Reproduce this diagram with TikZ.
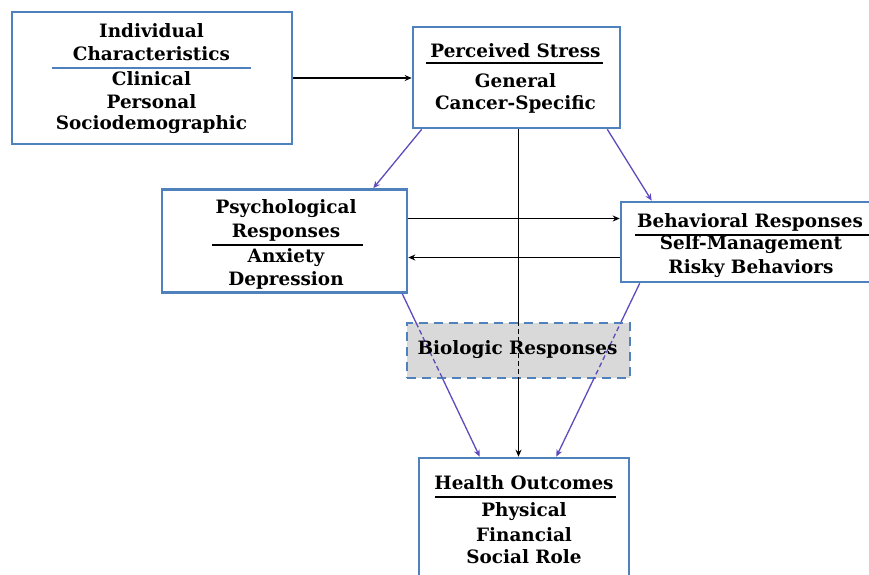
\documentclass[tikz,border=0pt]{standalone}
\usepackage{fontspec}
\setmainfont{DejaVu Serif}
\usetikzlibrary{arrows.meta}
\definecolor{frameblue}{RGB}{79,129,189}
\definecolor{linkviolet}{RGB}{96,74,190}
\definecolor{biogray}{RGB}{217,217,217}
\tikzset{
  box/.style={draw=frameblue, line width=2.6pt, fill=white, inner sep=0pt},
  biobox/.style={draw=frameblue, line width=2.6pt, fill=biogray, inner sep=0pt,
    dash pattern=on 9pt off 6pt},
  lbl/.style={font=\fontsize{18.4}{21}\selectfont\bfseries, inner sep=0pt, anchor=center},
  sepline/.style={line width=1.4pt},
  plain/.style={line width=1.3pt, -{Stealth[length=7pt,width=6pt]}},
  violet/.style={line width=1.3pt, draw=linkviolet, -{Stealth[length=7pt,width=6pt,fill=linkviolet]}},
  inside/.style={line width=1.3pt, dash pattern=on 5pt off 3pt},
}
\begin{document}
\begin{tikzpicture}[x=1pt,y=-1pt]
\useasboundingbox (0,0) rectangle (869,574);
\clip (0,0) rectangle (869,574);
\fill[white] (0,0) rectangle (869,574);

% frames
\node[box, minimum width=280pt, minimum height=132pt] (ind) at (152,78) {};
\node[box, minimum width=207pt, minimum height=101pt] (ps) at (516.5,77.5) {};
\node[box, minimum width=245pt, minimum height=103pt] (psy) at (284.5,241) {};
\node[box, minimum width=258pt, minimum height=80pt] (beh) at (750,242) {};
\node[box, minimum width=210pt, minimum height=140pt] (ho) at (524,528) {};

% Individual Characteristics
\node[lbl] (ind1) at (151.5,31) {Individual};
\node[lbl] (ind2) at (151.5,54) {Characteristics};
\draw[sepline, draw=frameblue] (52,68) -- (251,68);
\node[lbl] (ind3) at (151.5,79) {Clinical};
\node[lbl] (ind4) at (151.5,102) {Personal};
\node[lbl] (ind5) at (151.5,125) {Sociodemographic};

% Perceived Stress
\node[lbl] (ps1) at (515.5,51) {Perceived Stress};
\draw[sepline] (426,63) -- (603,63);
\node[lbl] (ps2) at (515.5,81) {General};
\node[lbl] (ps3) at (515.5,104) {Cancer-Specific};

% Psychological Responses
\node[lbl] (psy1) at (286,209) {Psychological};
\draw[sepline] (212,245) -- (363,245);
\node[lbl] (psy2) at (286,233) {Responses};
\node[lbl] (psy3) at (286,258) {Anxiety};
\node[lbl] (psy4) at (286,280) {Depression};

% Behavioral Responses
\node[lbl] (beh1) at (750,222) {Behavioral Responses};
\draw[sepline] (635,235) -- (869,235);
\node[lbl] (beh2) at (751,245) {Self-Management};
\node[lbl] (beh3) at (751,269) {Risky Behaviors};

% Health Outcomes
\node[lbl] (ho1) at (524,483) {Health Outcomes};
\draw[sepline] (435,497) -- (616,497);
\node[lbl] (ho2) at (524,512) {Physical};
\node[lbl] (ho3) at (524,535) {Financial};
\node[lbl] (ho4) at (524,557) {Social Role};

% connector end points
\coordinate (psS) at ([xshift=2pt]ps.south);
\coordinate (hoN) at (psS |- ho.north);
\coordinate (psyS) at ([xshift=-6pt]psy.south east);
\coordinate (hoNL) at ([xshift=62pt]ho.north west);
\coordinate (behS) at ([xshift=20pt]beh.south west);
\coordinate (hoNR) at ([xshift=-74pt]ho.north east);

% connectors
\draw[plain] (ind.east) -- (ind.east -| ps.west);
\draw[violet] ([xshift=10pt]ps.south west) -- ([xshift=-35pt]psy.north east);
\draw[violet] ([xshift=-14pt]ps.south east) -- ([xshift=32pt]beh.north west);
\draw[plain] ([yshift=22.5pt]psy.east) -- ([yshift=22.5pt]psy.east -| beh.west);
\draw[plain] ([yshift=-16.5pt]psy.east -| beh.west) -- ([yshift=-16.5pt]psy.east);
\draw[plain] (psS) -- (hoN);
\draw[violet] (psyS) -- (hoNL);
\draw[violet] (behS) -- (hoNR);

% Biologic Responses, crossed by the links as dashed strokes
\node[biobox, minimum width=223pt, minimum height=55pt] (bio) at (518.5,350.5) {};
\begin{scope}
  \clip ([xshift=1.3pt,yshift=1.3pt]bio.south west) rectangle ([xshift=-1.3pt,yshift=-1.3pt]bio.north east);
  \draw[inside] (psS) -- (hoN);
  \draw[inside, draw=linkviolet] (psyS) -- (hoNL);
  \draw[inside, draw=linkviolet] (behS) -- (hoNR);
\end{scope}
\node[lbl] (bio1) at (517.5,350) {Biologic Responses};
\end{tikzpicture}
\end{document}
